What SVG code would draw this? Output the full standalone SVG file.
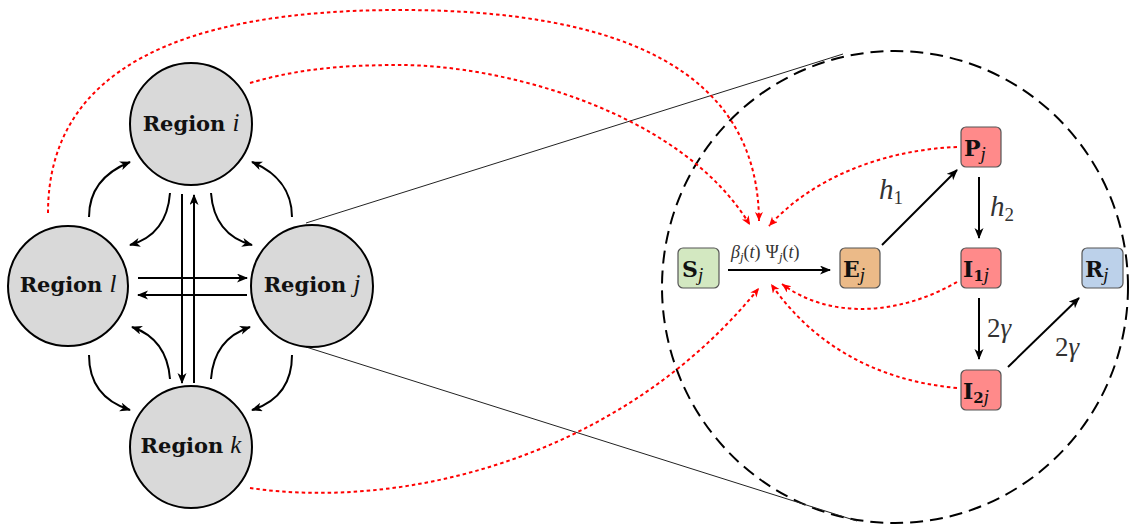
<svg xmlns="http://www.w3.org/2000/svg" width="1129" height="528" viewBox="0 0 1129 528">
<defs>
<style>
.region{fill:#d9d9d9;stroke:#000;stroke-width:2}
.box{stroke:#555;stroke-width:1.2}
.arr{fill:none;stroke:#000;stroke-width:2;marker-end:url(#ah)}
.red{fill:none;stroke:#ff0000;stroke-width:2;stroke-dasharray:3.5 3;marker-end:url(#rh)}
.tan{fill:none;stroke:#222;stroke-width:1}
</style>
<marker id="ah" markerUnits="userSpaceOnUse" markerWidth="12" markerHeight="10" refX="10" refY="4.5" orient="auto">
<path d="M0,0 L11,4.5 L0,9 L3,4.5 z" fill="#000"/>
</marker>
<marker id="rh" markerUnits="userSpaceOnUse" markerWidth="10" markerHeight="9" refX="9" refY="4" orient="auto">
<path d="M0,0 L9,4 L0,8 L2.5,4 z" fill="#ff0000"/>
</marker>
</defs>
<rect width="1129" height="528" fill="#fff"/>

<ellipse id="zoom-circle" cx="895" cy="287" rx="233" ry="236" fill="none" stroke="#000" stroke-width="2" stroke-dasharray="13 7"/>

<g id="tangents">
<line class="tan" x1="306" y1="223" x2="843" y2="54"/>
<line class="tan" x1="306" y1="347" x2="857" y2="521"/>
</g>

<g id="region-i"><circle class="region" cx="191" cy="124" r="61"/><text x="191" y="131" text-anchor="middle" font-family="DejaVu Serif" font-weight="bold" font-size="21" fill="#111">Region<tspan font-family="Liberation Serif" font-style="italic" font-weight="normal" font-size="25" dx="7">i</tspan></text></g>
<g id="region-l"><circle class="region" cx="68" cy="286" r="60"/><text x="68" y="292" text-anchor="middle" font-family="DejaVu Serif" font-weight="bold" font-size="21" fill="#111">Region<tspan font-family="Liberation Serif" font-style="italic" font-weight="normal" font-size="25" dx="7">l</tspan></text></g>
<g id="region-j"><circle class="region" cx="312" cy="286" r="61"/><text x="312" y="292" text-anchor="middle" font-family="DejaVu Serif" font-weight="bold" font-size="21" fill="#111">Region<tspan font-family="Liberation Serif" font-style="italic" font-weight="normal" font-size="25" dx="7">j</tspan></text></g>
<g id="region-k"><circle class="region" cx="191" cy="447" r="61"/><text x="191" y="453" text-anchor="middle" font-family="DejaVu Serif" font-weight="bold" font-size="21" fill="#111">Region<tspan font-family="Liberation Serif" font-style="italic" font-weight="normal" font-size="25" dx="7">k</tspan></text></g>

<g id="node-S"><rect class="box" x="678" y="248" width="41" height="40" rx="5" fill="#d3e8c1"/><text x="682" y="277" font-family="DejaVu Serif" font-weight="bold" font-size="22" fill="#111">S<tspan font-family="Liberation Serif" font-style="italic" font-weight="normal" font-size="19" dy="4">j</tspan></text></g>
<g id="node-E"><rect class="box" x="840" y="248" width="40" height="40" rx="5" fill="#ebba88"/><text x="843" y="277" font-family="DejaVu Serif" font-weight="bold" font-size="22" fill="#111">E<tspan font-family="Liberation Serif" font-style="italic" font-weight="normal" font-size="19" dy="4">j</tspan></text></g>
<g id="node-P"><rect class="box" x="961" y="127" width="40" height="40" rx="5" fill="#ff8a8a"/><text x="964" y="156" font-family="DejaVu Serif" font-weight="bold" font-size="22" fill="#111">P<tspan font-family="Liberation Serif" font-style="italic" font-weight="normal" font-size="19" dy="4">j</tspan></text></g>
<g id="node-I1"><rect class="box" x="961" y="248" width="40" height="40" rx="5" fill="#ff8a8a"/><text x="963" y="277" font-family="DejaVu Serif" font-weight="bold" font-size="22" fill="#111">I<tspan font-size="15" dy="4">1</tspan><tspan font-family="Liberation Serif" font-style="italic" font-weight="normal" font-size="19">j</tspan></text></g>
<g id="node-I2"><rect class="box" x="961" y="370" width="40" height="40" rx="5" fill="#ff8a8a"/><text x="963" y="399" font-family="DejaVu Serif" font-weight="bold" font-size="22" fill="#111">I<tspan font-size="15" dy="4">2</tspan><tspan font-family="Liberation Serif" font-style="italic" font-weight="normal" font-size="19">j</tspan></text></g>
<g id="node-R"><rect class="box" x="1082" y="248" width="41" height="40" rx="5" fill="#bcd1ea"/><text x="1085" y="277" font-family="DejaVu Serif" font-weight="bold" font-size="22" fill="#111">R<tspan font-family="Liberation Serif" font-style="italic" font-weight="normal" font-size="19" dy="4">j</tspan></text></g>

<g id="connectors">
<path class="arr" d="M89,217 C89,190 105,172 130,162"/>
<path class="arr" d="M170,193 C168,220 155,238 130,245"/>
<path class="arr" d="M211,193 C213,220 226,238 252,245"/>
<path class="arr" d="M292,217 C292,190 276,172 252,162"/>
<path class="arr" d="M89,355 C89,385 105,402 130,410"/>
<path class="arr" d="M170,379 C168,352 155,335 132,327"/>
<path class="arr" d="M211,379 C213,352 226,335 250,327"/>
<path class="arr" d="M292,355 C292,385 277,402 252,410"/>
<path class="arr" d="M182,194 L182,383"/>
<path class="arr" d="M194,383 L194,195"/>
<path class="arr" d="M138,278 L247,278"/>
<path class="arr" d="M247,295 L138,295"/>

<path class="arr" d="M728,270 L830,270"/>
<path class="arr" d="M882,245 L957,170"/>
<path class="arr" d="M979,177 L979,238"/>
<path class="arr" d="M979,298 L979,359"/>
<path class="arr" d="M1008,367 L1079,298"/>

<path class="red" d="M48,213 C48,70 180,10 400,10 C620,10 758,70 759,221"/>
<path class="red" d="M250,83 C300,68 350,65 400,65 C500,65 680,110 750,225"/>
<path class="red" d="M957,147 C880,150 810,180 769,226"/>
<path class="red" d="M957,282 C900,315 830,320 782,284"/>
<path class="red" d="M957,388 C870,380 810,340 771,284"/>
<path class="red" d="M250,488 C400,510 620,460 759,288"/>
</g>

<g id="labels" font-family="Liberation Serif" fill="#333">
<text x="731" y="258" font-size="18" font-style="italic">β<tspan font-size="13" dy="3">j</tspan><tspan font-style="normal" dy="-3">(</tspan>t<tspan font-style="normal">)</tspan><tspan font-style="normal" dx="5">Ψ</tspan><tspan font-size="13" dy="3">j</tspan><tspan font-style="normal" dy="-3">(</tspan>t<tspan font-style="normal">)</tspan></text>
<text x="879" y="199" font-size="29" font-style="italic">h<tspan font-style="normal" font-size="19" dy="5">1</tspan></text>
<text x="990" y="216" font-size="29" font-style="italic">h<tspan font-style="normal" font-size="19" dy="5">2</tspan></text>
<text x="987" y="337" font-size="27">2<tspan font-style="italic">γ</tspan></text>
<text x="1055" y="356" font-size="27">2<tspan font-style="italic">γ</tspan></text>
</g>
</svg>
